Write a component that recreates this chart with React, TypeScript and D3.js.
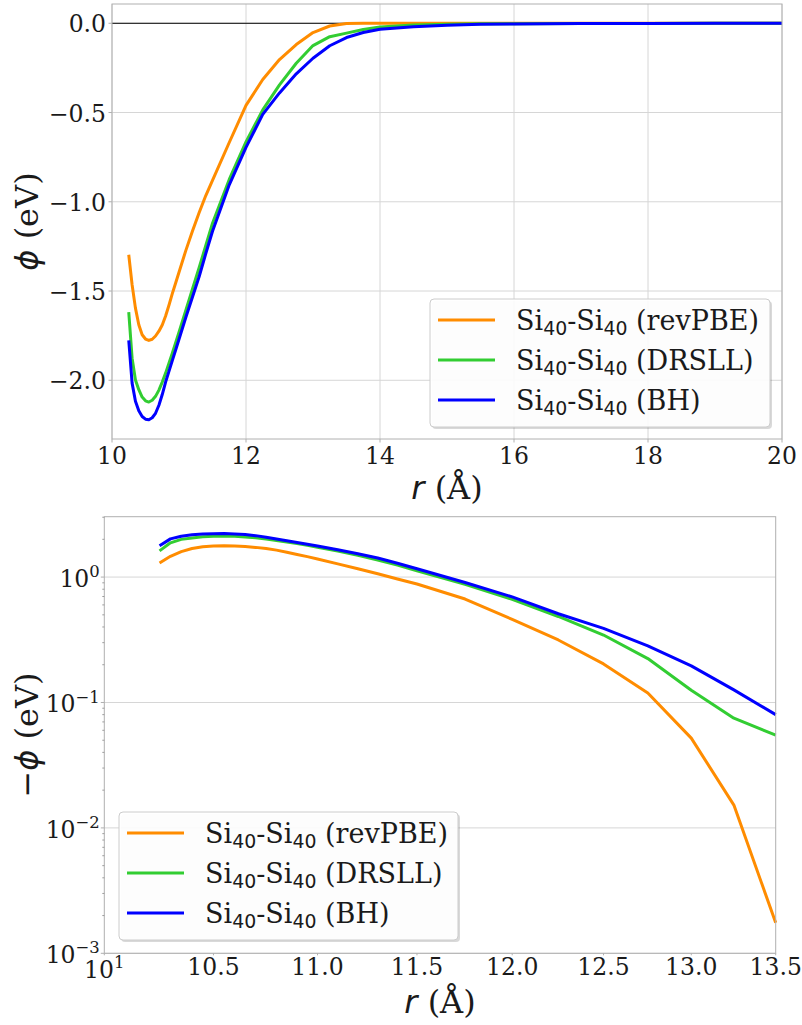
import React from 'react';
import * as d3 from 'd3';

// ---- data ----
const rValues = [10.25, 10.3, 10.35, 10.4, 10.45, 10.5, 10.55, 10.6, 10.65, 10.7, 10.75, 10.8, 10.85, 10.9, 10.95, 11.0,
  11.1, 11.2, 11.3, 11.4, 11.5, 11.75, 12.0, 12.25, 12.5, 12.75, 13.0, 13.25, 13.5, 13.75, 14.0, 14.5, 15.0, 15.5, 16.0, 17.0, 18.0, 19.0, 20.0];
const phiRevPBE = [-1.297, -1.465, -1.596, -1.689, -1.745, -1.769, -1.777, -1.77, -1.752, -1.725, -1.69, -1.64, -1.58, -1.515, -1.455, -1.395,
  -1.275, -1.165, -1.062, -0.965, -0.88, -0.668, -0.46, -0.315, -0.203, -0.119, -0.052, -0.0152, -0.00175, -0.0004, -0.0001, 0, 0, 0, 0, 0, 0, 0, 0];
const phiDRSLL = [-1.618, -1.876, -1.998, -2.053, -2.094, -2.115, -2.122, -2.112, -2.09, -2.055, -2.01, -1.96, -1.905, -1.848, -1.79, -1.73,
  -1.61, -1.49, -1.37, -1.245, -1.12, -0.875, -0.665, -0.485, -0.345, -0.224, -0.125, -0.075, -0.055, -0.035, -0.021, -0.009, -0.005, -0.003, -0.002, -0.001, -0.0006, -0.0004, -0.0003];
const phiBH = [-1.777, -2.016, -2.118, -2.171, -2.203, -2.218, -2.221, -2.21, -2.185, -2.14, -2.08, -2.01, -1.95, -1.89, -1.83, -1.77,
  -1.65, -1.535, -1.42, -1.29, -1.165, -0.905, -0.695, -0.51, -0.39, -0.283, -0.196, -0.126, -0.08, -0.052, -0.034, -0.019, -0.011, -0.006, -0.004, -0.0015, -0.0008, -0.0005, -0.0003];

const seriesNames = ['revPBE', 'DRSLL', 'BH'];
const seriesColors = ['#ff8c00', '#32cd32', '#0000ff'];
const seriesValues = [phiRevPBE, phiDRSLL, phiBH];

const topXTicks = [10, 12, 14, 16, 18, 20];
const topYTicks = [0, -0.5, -1.0, -1.5, -2.0];
const bottomXTicks = [10, 10.5, 11, 11.5, 12, 12.5, 13, 13.5];
const bottomYTicks = [1, 0.1, 0.01, 0.001];

const SERIF = 'DejaVu Serif';
const SANS = 'DejaVu Sans';
const TICK_FS = 23.5;
const LEG_FS = 27;
const LAB_FS = 32;
const SPINE = '#b0b0b0';
const GRID = '#d6d6d6';
const TXT = '#1a1a1a';

function SiLabel({ x, y, name }: { x: number; y: number; name: string }) {
  const sub = LEG_FS * 0.7;
  const dy = LEG_FS * 0.2;
  return (
    <text x={x} y={y} fontFamily={SERIF} fontSize={LEG_FS} fill={TXT}>
      Si
      <tspan fontFamily={SANS} fontSize={sub} dy={dy}>40</tspan>
      <tspan dy={-dy}>-Si</tspan>
      <tspan fontFamily={SANS} fontSize={sub} dy={dy}>40</tspan>
      <tspan dy={-dy}>{'\u00a0(' + name + ')'}</tspan>
    </text>
  );
}

function Legend({ x, y, w, h }: { x: number; y: number; w: number; h: number }) {
  return (
    <g>
      <rect x={x + 2} y={y + 2} width={w} height={h} rx={4} fill="#000" opacity={0.15} />
      <rect x={x} y={y} width={w} height={h} rx={4} fill="#fff" fillOpacity={0.93} stroke="#cccccc" strokeWidth={1} />
      {seriesNames.map((n, i) => (
        <g key={n}>
          <line x1={x + 8} x2={x + 65} y1={y + 21 + i * 40} y2={y + 21 + i * 40} stroke={seriesColors[i]} strokeWidth={3} />
          <SiLabel x={x + 86} y={y + 31 + i * 40} name={n} />
        </g>
      ))}
    </g>
  );
}

function Exp10({ x, y, exp, anchor }: { x: number; y: number; exp: string; anchor: 'end' | 'middle' }) {
  return (
    <text x={x} y={y} fontFamily={SERIF} fontSize={TICK_FS} textAnchor={anchor} fill={TXT}>
      10<tspan fontSize={TICK_FS * 0.7} dy={-TICK_FS * 0.42}>{exp}</tspan>
    </text>
  );
}

export default function App() {
  // ---- top plot ----
  const tL = 112, tR = 782, tT = 4, tB = 439;
  const xTop = d3.scaleLinear().domain([10, 20]).range([tL, tR]);
  const yTop = d3.scaleLinear().domain([-2.329, 0.108]).range([tB, tT]);
  const lineTop = d3.line<number>().x((_, i) => xTop(rValues[i])).y((d) => yTop(d));

  // ---- bottom plot ----
  const bL = 104.3, bR = 775.7, bT = 516.7, bB = 953.3;
  const xBot = d3.scaleLog().domain([10, 13.5]).range([bL, bR]);
  const yBot = d3.scaleLog().domain([1e-3, 3.03]).range([bB, bT]);
  const botIdx = rValues.map((_, i) => i).filter((i) => rValues[i] <= 13.5);
  const lineBot = (vals: number[]) =>
    d3.line<number>().x((i) => xBot(rValues[i])).y((i) => yBot(-vals[i]))(botIdx) || '';

  const minorY: number[] = [];
  for (let k = -3; k <= 0; k++) for (let m = 2; m <= 9; m++) {
    const v = m * Math.pow(10, k);
    if (v <= 3.03) minorY.push(v);
  }

  const fmtTop = (d: number) => (d === 0 ? '0.0' : '\u2212' + Math.abs(d).toFixed(1));
  const expLabel = (d: number) => {
    const e = Math.round(Math.log10(d));
    return e < 0 ? '\u2212' + Math.abs(e) : String(e);
  };

  return (
    <svg width={802} height={1025} style={{ position: 'absolute', left: 0, top: 0, background: '#fff' }}>
      {/* ===== TOP ===== */}
      <g>
        {topXTicks.map((t) => (
          <line key={'gx' + t} x1={xTop(t)} x2={xTop(t)} y1={tT} y2={tB} stroke={GRID} strokeWidth={1} />
        ))}
        {topYTicks.map((t) => (
          <line key={'gy' + t} x1={tL} x2={tR} y1={yTop(t)} y2={yTop(t)} stroke={GRID} strokeWidth={1} />
        ))}
        <line x1={tL} x2={tR} y1={yTop(0)} y2={yTop(0)} stroke="#000" strokeWidth={1} />
        {seriesValues.map((vals, i) => (
          <path key={'tl' + i} d={lineTop(vals) || ''} fill="none" stroke={seriesColors[i]} strokeWidth={3} strokeLinejoin="round" />
        ))}
        <rect x={tL} y={tT} width={tR - tL} height={tB - tT} fill="none" stroke={SPINE} strokeWidth={1} />
        {topXTicks.map((t) => (
          <g key={'tx' + t}>
            <line x1={xTop(t)} x2={xTop(t)} y1={tB} y2={tB + 3.5} stroke={SPINE} />
            <text x={xTop(t)} y={tB + 25} textAnchor="middle" fontFamily={SERIF} fontSize={TICK_FS} fill={TXT}>{t}</text>
          </g>
        ))}
        {topYTicks.map((t) => (
          <g key={'ty' + t}>
            <line x1={tL - 3.5} x2={tL} y1={yTop(t)} y2={yTop(t)} stroke={SPINE} />
            <text x={tL - 6} y={yTop(t) + 9} textAnchor="end" fontFamily={SERIF} fontSize={TICK_FS} fill={TXT}>{fmtTop(t)}</text>
          </g>
        ))}
        <text x={(tL + tR) / 2} y={499} textAnchor="middle" fontFamily={SERIF} fontSize={LAB_FS} fill={TXT}>
          <tspan fontFamily={SANS} fontStyle="italic">r</tspan>{'\u00a0(Å)'}
        </text>
        <text transform={`translate(38,${(tT + tB) / 2}) rotate(-90)`} textAnchor="middle" fontFamily={SERIF} fontSize={LAB_FS} fill={TXT}>
          <tspan fontFamily={SANS} fontStyle="italic">ϕ</tspan>{'\u00a0(eV)'}
        </text>
        <Legend x={430} y={299} w={340} h={128} />
      </g>

      {/* ===== BOTTOM ===== */}
      <g>
        {bottomYTicks.map((t) => (
          <line key={'bgy' + t} x1={bL} x2={bR} y1={yBot(t)} y2={yBot(t)} stroke={GRID} strokeWidth={1} />
        ))}
        {seriesValues.map((vals, i) => (
          <path key={'bl' + i} d={lineBot(vals)} fill="none" stroke={seriesColors[i]} strokeWidth={3} strokeLinejoin="round" />
        ))}
        <rect x={bL} y={bT} width={bR - bL} height={bB - bT} fill="none" stroke={SPINE} strokeWidth={1} />
        {minorY.map((t) => (
          <line key={'mny' + t} x1={bL - 2} x2={bL} y1={yBot(t)} y2={yBot(t)} stroke="#888" strokeWidth={0.8} />
        ))}
        {bottomYTicks.map((t) => (
          <g key={'by' + t}>
            <line x1={bL - 3.5} x2={bL} y1={yBot(t)} y2={yBot(t)} stroke={SPINE} />
            <Exp10 x={bL - 4.5} y={yBot(t) + 10} exp={expLabel(t)} anchor="end" />
          </g>
        ))}
        {bottomXTicks.map((t) => (
          <g key={'bx' + t}>
            <line x1={xBot(t)} x2={xBot(t)} y1={bB} y2={bB + 2} stroke={SPINE} />
            {t === 10 ? (
              <Exp10 x={xBot(t)} y={bB + 25} exp="1" anchor="middle" />
            ) : (
              <text x={xBot(t)} y={bB + 22} textAnchor="middle" fontFamily={SERIF} fontSize={TICK_FS} fill={TXT}>{t.toFixed(1)}</text>
            )}
          </g>
        ))}
        <text x={(bL + bR) / 2} y={1013} textAnchor="middle" fontFamily={SERIF} fontSize={LAB_FS} fill={TXT}>
          <tspan fontFamily={SANS} fontStyle="italic">r</tspan>{'\u00a0(Å)'}
        </text>
        <text transform={`translate(38,${(bT + bB) / 2}) rotate(-90)`} textAnchor="middle" fontFamily={SERIF} fontSize={LAB_FS} fill={TXT}>
          <tspan fontFamily={SANS}>{'\u2212'}</tspan><tspan fontFamily={SANS} fontStyle="italic">ϕ</tspan>{'\u00a0(eV)'}
        </text>
        <Legend x={119} y={812} w={339} h={128} />
      </g>
    </svg>
  );
}
